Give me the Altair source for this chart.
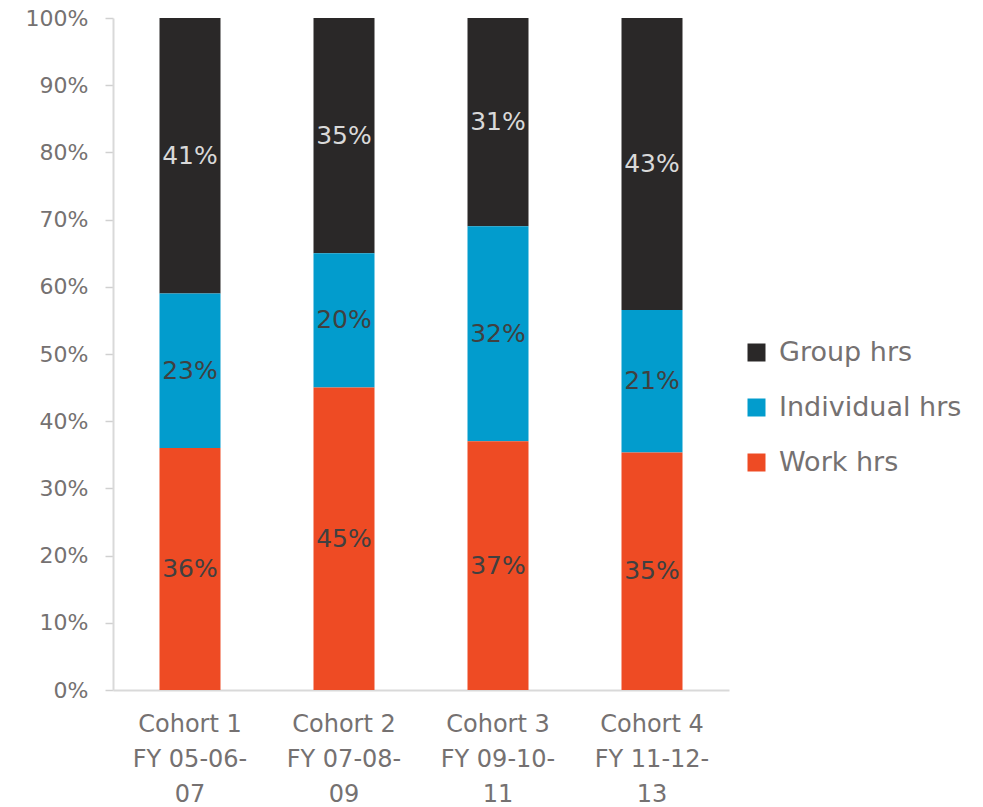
import altair as alt
import pandas as pd

cohorts = ["Cohort 1|FY 05-06-|07", "Cohort 2|FY 07-08-|09",
           "Cohort 3|FY 09-10-|11", "Cohort 4|FY 11-12-|13"]
series = ["Group hrs", "Individual hrs", "Work hrs"]
work_hrs = [36, 45, 37, 35]
individual_hrs = [23, 20, 32, 21]
group_hrs = [41, 35, 31, 43]
colors = ["#2A2828", "#029CCD", "#EE4B24"]
stack_order = {"Work hrs": 0, "Individual hrs": 1, "Group hrs": 2}

rows = []
for i, c in enumerate(cohorts):
    for s, vals in zip(series, [group_hrs, individual_hrs, work_hrs]):
        rows.append({"cohort": c, "series": s, "value": vals[i],
                     "ord": stack_order[s],
                     "tc": "#D9D9D9" if s == "Group hrs" else "#404040"})
df = pd.DataFrame(rows)

FONT = "DejaVu Sans"
GRAY = "#757171"

base = alt.Chart(df).transform_stack(
    stack="value", as_=["y0", "y1"], groupby=["cohort"],
    sort=[alt.SortField("ord", order="ascending")], offset="normalize"
).transform_calculate(mid="(datum.y0 + datum.y1) / 2")

bars = base.mark_bar(size=61).encode(
    x=alt.X("cohort:N", sort=cohorts, title=None,
            axis=alt.Axis(labelExpr="split(datum.label, '|')", labelAngle=0,
                          labelFont=FONT, labelFontSize=24, labelColor=GRAY,
                          labelLineHeight=35, labelPadding=22, ticks=False,
                          domainColor="#D9D9D9", domainWidth=2)),
    y=alt.Y("y0:Q", scale=alt.Scale(domain=[0, 1], nice=False), title=None,
            axis=alt.Axis(format="%", values=[i / 10 for i in range(11)],
                          labelFont=FONT, labelFontSize=22, labelColor=GRAY,
                          labelPadding=17, ticks=True, tickSize=8, tickWidth=1.5,
                          tickColor="#D0D0D0",
                          domainColor="#D9D9D9", domainWidth=2, grid=False)),
    y2="y1:Q",
    color=alt.Color("series:N", sort=series,
                    scale=alt.Scale(domain=series, range=colors),
                    legend=alt.Legend(title=None, orient="none", legendX=630,
                                      legendY=321, symbolType="square",
                                      symbolSize=324, symbolStrokeWidth=0,
                                      labelFont=FONT, labelFontSize=27,
                                      labelColor=GRAY, rowPadding=27,
                                      labelOffset=9, labelLimit=300)),
)

labels = base.mark_text(font=FONT, fontSize=25, baseline="middle").encode(
    x=alt.X("cohort:N", sort=cohorts),
    y="mid:Q",
    text=alt.Text("label:N"),
    color=alt.Color("tc:N", scale=None),
).transform_calculate(label="datum.value + '%'")

chart = alt.layer(bars, labels).properties(
    width=616, height=672,
    autosize=alt.AutoSizeParams(type="none"),
    padding={"left": 113, "top": 18, "right": 254, "bottom": 117},
).configure_view(stroke=None).configure_scale(bandPaddingInner=0.6, bandPaddingOuter=0.3)

chart.save("out.html", embed_options={"renderer": "svg", "actions": False})
